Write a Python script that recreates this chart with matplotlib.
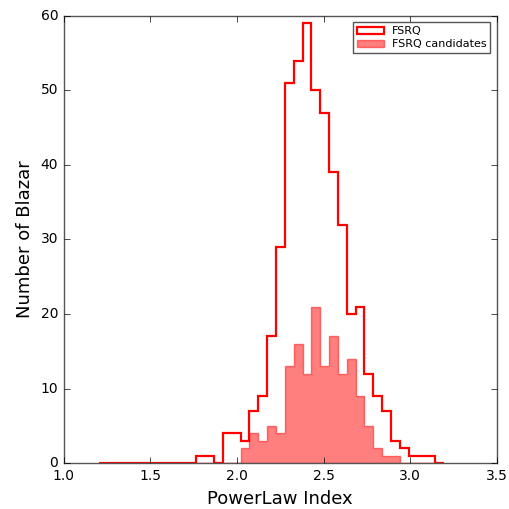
import matplotlib
matplotlib.use("Agg")
import matplotlib.pyplot as plt
import numpy as np

# 39 equal bins across the PowerLaw index range
bin_edges = np.linspace(1.204, 3.196, 40)

fsrq_counts = [0, 0, 0, 0, 0, 0, 0, 0, 0, 0, 0,
               1, 1, 0, 4, 4, 3, 7, 9, 17, 29, 51, 54, 59, 50, 47,
               39, 32, 20, 21, 12, 9, 7, 3, 2, 1, 1, 1, 0]
cand_counts = [0, 0, 0, 0, 0, 0, 0, 0, 0, 0, 0,
               0, 0, 0, 0, 0, 2, 4, 3, 5, 4, 13, 16, 12, 21, 13,
               17, 12, 14, 9, 5, 2, 1, 1, 0, 0, 0, 0, 0]

x_ticks = [1.0, 1.5, 2.0, 2.5, 3.0, 3.5]
y_ticks = [0, 10, 20, 30, 40, 50, 60]

plt.style.use("classic")
fig = plt.figure(figsize=(5.10, 5.09), dpi=100, facecolor="white")
axis = fig.add_axes([0.125, 0.09, 0.849, 0.879])

centers = 0.5 * (bin_edges[:-1] + bin_edges[1:])
axis.hist(centers, bins=bin_edges, weights=fsrq_counts, histtype="step",
          color="red", linewidth=1.6, label="FSRQ")
axis.hist(centers, bins=bin_edges, weights=cand_counts, histtype="stepfilled",
          facecolor="red", edgecolor="red", alpha=0.5, linewidth=1,
          label="FSRQ candidates")

axis.set_xlim(1.0, 3.5)
axis.set_ylim(0, 60)
axis.set_xticks(x_ticks)
axis.set_yticks(y_ticks)
axis.tick_params(labelsize=10, direction="in", length=4, top=True, right=True)
for spine in axis.spines.values():
    spine.set_edgecolor("#555555")
axis.set_xlabel("PowerLaw Index", fontsize=13)
axis.set_ylabel("Number of Blazar", fontsize=13)
legend = axis.legend(loc="upper right", fontsize=8, frameon=True, fancybox=False,
                     borderaxespad=0.6, borderpad=0.35, handlelength=2.4,
                     handleheight=0.6, labelspacing=0.25, handletextpad=0.7)
legend.get_frame().set_edgecolor("#555555")

fig.savefig("out.png", dpi=100, facecolor="white")
